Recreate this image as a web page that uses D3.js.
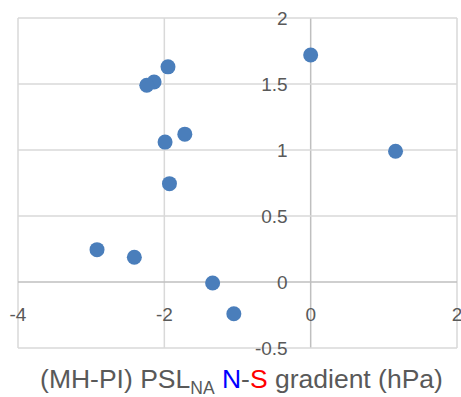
<!DOCTYPE html>
<html>
<head>
  <meta charset="UTF-8">
  <style>
    body { margin: 0; background: #fff; }
    .tick-label { font-family: "Liberation Sans", Arial, sans-serif; font-size: 19px; fill: #595959; }
    .title { font-family: "Liberation Sans", Arial, sans-serif; font-size: 26.5px; fill: #595959; }
  </style>
  <script src="https://d3js.org/d3.v7.min.js"></script>
</head>
<body>
<div id="chart"></div>
<script>
// points
var xValues = [-1.95, -2.14, -2.24, -1.72, -1.99, -1.93, 0.0, 1.16, -2.92, -2.41, -1.34, -1.05];
var yValues = [1.63, 1.515, 1.49, 1.12, 1.06, 0.745, 1.72, 0.99, 0.245, 0.187, -0.008, -0.24];
var xTicks = [-4, -2, 0, 2];
var yTicks = [-0.5, 0, 0.5, 1, 1.5, 2];

var width = 461, height = 397;
var margin = {top: 18, right: 4, bottom: 49, left: 18};

var svg = d3.select("#chart").append("svg")
    .attr("width", width)
    .attr("height", height);

var x = d3.scaleLinear().domain([-4, 2]).range([margin.left, width - margin.right]);
var y = d3.scaleLinear().domain([-0.5, 2]).range([height - margin.bottom, margin.top]);

// gridlines
svg.append("g").selectAll("line.vg")
    .data(xTicks)
    .enter().append("line")
    .attr("x1", d => x(d)).attr("x2", d => x(d))
    .attr("y1", y(2)).attr("y2", y(-0.5))
    .attr("stroke", d => d == 0 ? "#bfbfbf" : "#d9d9d9")
    .attr("stroke-width", 1.5);

svg.append("g").selectAll("line.hg")
    .data(yTicks)
    .enter().append("line")
    .attr("x1", x(-4)).attr("x2", x(2))
    .attr("y1", d => y(d)).attr("y2", d => y(d))
    .attr("stroke", d => d == 0 ? "#bfbfbf" : "#d9d9d9")
    .attr("stroke-width", 1.5);

// tick labels, axes cross at the origin
svg.append("g").selectAll("text")
    .data(xTicks)
    .enter().append("text")
    .attr("class", "tick-label")
    .attr("x", d => x(d))
    .attr("y", y(0) + 39)
    .attr("text-anchor", "middle")
    .text(d => d);

svg.append("g").selectAll("text")
    .data(yTicks)
    .enter().append("text")
    .attr("class", "tick-label")
    .attr("x", x(0) - 23)
    .attr("y", d => y(d))
    .attr("dy", "0.35em")
    .attr("text-anchor", "end")
    .text(d => d);

// points
svg.append("g").selectAll("circle")
    .data(xValues)
    .enter().append("circle")
    .attr("cx", d => x(d))
    .attr("cy", (d, i) => y(yValues[i]))
    .attr("r", 7.5)
    .attr("fill", "#4a7ebb");

// axis title
var title = svg.append("text")
    .attr("class", "title")
    .attr("x", 241.5)
    .attr("y", 388)
    .attr("text-anchor", "middle");
title.append("tspan").text("(MH-PI) PSL");
title.append("tspan").attr("dy", 6).style("font-size", "17.5px").text("NA");
title.append("tspan").attr("dy", -6).text(" ");
title.append("tspan").style("fill", "#0000ff").text("N");
title.append("tspan").text("-");
title.append("tspan").style("fill", "#ff0000").text("S");
title.append("tspan").text(" gradient (hPa)");
</script>
</body>
</html>
